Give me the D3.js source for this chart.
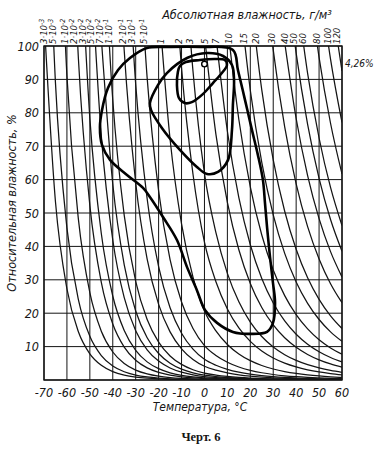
<!DOCTYPE html>
<html><head><meta charset="utf-8">
<script src="https://cdn.jsdelivr.net/npm/d3@7"></script>
<style>
body{margin:0;background:#fff;}
svg text{font-family:"DejaVu Sans Condensed","Liberation Sans Narrow",sans-serif;font-style:italic;fill:#161616;}
</style>
</head><body><svg id="c" width="374" height="453"></svg>
<script>
// Saturation vapour density table (g/m3), over ice below 0 °C, over water above
const satTemps   = [-70,-65,-60,-55,-50,-45,-40,-35,-30,-25,-20,-15,-10,-5,0,5,10,15,20,25,30,35,40,45,50,55,60];
const satDensity = [0.00276,0.00562,0.01098,0.02076,0.03826,0.0684,0.1193,0.2029,0.3386,0.5527,0.8833,1.3875,2.140,3.246,4.849,6.798,9.398,12.82,17.29,23.03,30.35,39.58,51.09,65.34,82.81,104.07,129.69];

// Absolute humidity isolines (g/m3) and their top labels
const absHumidity = [0.003,0.005,0.01,0.02,0.03,0.05,0.07,0.1,0.2,0.3,0.5,1,2,3,5,7,10,15,20,30,40,50,60,80,100,120];
const absLabels = ["3·10^-3","5·10^-3","1·10^-2","2·10^-2","3·10^-2","5·10^-2","7·10^-2","1·10^-1","2·10^-1","3·10^-1","5·10^-1","1","2","3","5","7","10","15","20","30","40","50","60","80","100","120"];

const xTicks = [-70,-60,-50,-40,-30,-20,-10,0,10,20,30,40,50,60];
const yTicks = [10,20,30,40,50,60,70,80,90,100];
const yGrid  = [0,10,20,30,40,50,60,70,80,90,100];

// Closed contours [temperature °C, relative humidity %]
const outerContour = [[-25.1,99.4],[-32.5,96.4],[-37.7,92.8],[-42.1,87.4],[-44.7,80.8],[-45.6,75.7],[-44.7,70.4],[-41.2,65.9],[-33.8,61.4],[-26.8,57.5],[-23.8,54.8],[-18.1,48.8],[-12.0,41.9],[-7.6,33.8],[-3.3,26.9],[0.2,21.0],[5.5,17.1],[12.4,14.4],[19.9,13.8],[27.3,14.4],[29.9,17.1],[30.8,23.1],[29.9,29.0],[28.6,36.8],[27.3,45.8],[26.4,53.0],[25.5,59.9],[23.3,67.4],[20.7,74.9],[17.7,83.8],[14.6,92.8],[12.4,98.8],[-2.0,99.7],[-15.1,99.7]];
const middleContour = [[-23.8,82.9],[-20.3,88.3],[-16.4,91.9],[-7.6,96.4],[1.1,97.9],[8.1,97.0],[12.0,94.3],[12.9,89.8],[12.4,82.3],[12.0,74.9],[10.3,65.9],[5.9,62.3],[1.1,61.7],[-3.3,63.8],[-10.7,68.9],[-18.5,75.4],[-23.3,80.8]];
const innerContour = [[-11.6,92.2],[-10.7,94.0],[-8.1,95.2],[-2.0,95.8],[4.6,96.1],[8.9,95.8],[9.8,94.3],[7.6,91.9],[3.7,88.9],[-0.7,85.6],[-5.5,83.2],[-8.5,82.9],[-11.1,84.4],[-12.0,88.3]];
const markerPoint = [0, 94.6];
const noteLabel = "4,26%";

const svg = d3.select("#c");
const x = d3.scaleLinear().domain([-70,60]).range([44,342]);
const y = d3.scaleLinear().domain([0,100]).range([380,46]);
const ink = "#141414";

svg.append("defs").append("clipPath").attr("id","plot")
  .append("rect").attr("x",x(-70)).attr("y",y(100)).attr("width",x(60)-x(-70)).attr("height",y(0)-y(100));

// grid
const g = svg.append("g");
g.selectAll(".vg").data(xTicks).join("line")
  .attr("x1",d=>x(d)).attr("x2",d=>x(d)).attr("y1",y(0)).attr("y2",y(100))
  .attr("stroke",ink).attr("stroke-width",1);
g.selectAll(".hg").data(yGrid).join("line")
  .attr("x1",x(-70)).attr("x2",x(60)).attr("y1",d=>y(d)).attr("y2",d=>y(d))
  .attr("stroke",ink).attr("stroke-width",1);
g.append("rect").attr("x",x(-70)).attr("y",y(100)).attr("width",x(60)-x(-70)).attr("height",y(0)-y(100))
  .attr("fill","none").attr("stroke",ink).attr("stroke-width",1.4);

// isolines
const iso = svg.append("g").attr("clip-path","url(#plot)");
const isoLine = d3.line().x(d=>x(d[0])).y(d=>y(d[1])).curve(d3.curveMonotoneX);
const topX = [];
absHumidity.forEach(a=>{
  const pts = satTemps.map((t,i)=>[t, 100*a/satDensity[i]]);
  let k = pts.findIndex(p=>p[1]<=100);
  const seg = pts.slice(Math.max(k-1,0));
  iso.append("path").attr("d",isoLine(seg)).attr("fill","none").attr("stroke",ink).attr("stroke-width",1.25);
  let tc = satTemps[0];
  if(k>0){
    const r1 = Math.log(a/satDensity[k-1]), r2 = Math.log(a/satDensity[k]);
    tc = satTemps[k-1] + (satTemps[k]-satTemps[k-1]) * (r1/(r1-r2));
  }
  topX.push(x(tc));
});

// top labels, de-overlapped leftwards
const lx = topX.slice();
for(let i=lx.length-2;i>=0;i--){ if(lx[i] > lx[i+1]-8.6) lx[i] = lx[i+1]-8.6; }
absLabels.forEach((s,i)=>{
  const t = svg.append("text").attr("transform",`translate(${lx[i]-1},44) rotate(-90)`)
    .attr("dy","0.36em").attr("font-size",9.5);
  if(s.includes("^")){
    const [m,e] = s.split("^");
    t.append("tspan").text(m);
    t.append("tspan").attr("dy","-0.45em").attr("font-size",7).text(e);
  } else t.text(s);
});

// contours
const cl = d3.line().x(d=>x(d[0])).y(d=>y(d[1])).curve(d3.curveCatmullRomClosed.alpha(0.5));
[outerContour,middleContour,innerContour].forEach(c=>{
  svg.append("path").attr("d",cl(c)).attr("fill","none").attr("stroke","#000").attr("stroke-width",2.6).attr("stroke-linejoin","round");
});
svg.append("circle").attr("cx",x(markerPoint[0])).attr("cy",y(markerPoint[1])).attr("r",2.8)
  .attr("fill","#fff").attr("stroke","#000").attr("stroke-width",1.4);

// axis labels
svg.selectAll(".xt").data(xTicks).join("text")
  .attr("x",d=>x(d)).attr("y",397).attr("text-anchor","middle").attr("font-size",12.5)
  .text(d=>d<0?"-"+Math.abs(d):d);
svg.selectAll(".yt").data(yTicks).join("text")
  .attr("x",39).attr("y",d=>y(d)+4.5).attr("text-anchor","end").attr("font-size",12.5)
  .text(d=>d);

svg.append("text").attr("x",200).attr("y",411).attr("text-anchor","middle").attr("font-size",12).text("Температура, °C");
svg.append("text").attr("x",247).attr("y",19).attr("text-anchor","middle").attr("font-size",12.5).text("Абсолютная влажность, г/м³");
svg.append("text").attr("transform","translate(16,203) rotate(-90)").attr("text-anchor","middle").attr("font-size",12.5).text("Относительная влажность, %");
svg.append("text").attr("x",345).attr("y",67).attr("font-size",10).style("font-family","'Liberation Sans Narrow','DejaVu Sans Condensed',sans-serif").text(noteLabel);
svg.append("text").attr("x",201).attr("y",441).attr("text-anchor","middle").attr("font-size",12.5)
  .style("font-family","'Liberation Serif',serif").style("font-style","normal").style("font-weight","bold").text("Черт. 6");
</script></body></html>
